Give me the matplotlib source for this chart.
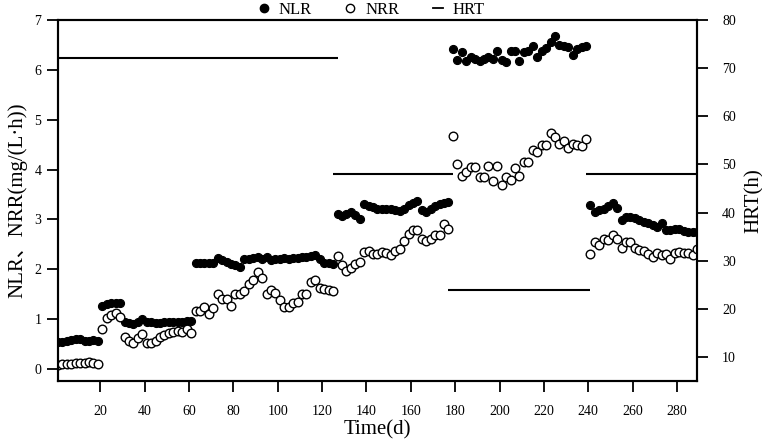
import matplotlib
matplotlib.use("Agg")
import matplotlib.pyplot as plt
from matplotlib.lines import Line2D

plt.rcParams["font.family"] = ["Liberation Serif", "Noto Sans CJK SC", "DejaVu Sans"]

# sampling days (every second day)
days = list(range(1, 290, 2))

nlr = [
    # days 1-19
    0.55, 0.55, 0.57, 0.58, 0.60, 0.60, 0.57, 0.57, 0.58, 0.57,
    # 21-29
    1.27, 1.30, 1.32, 1.32, 1.32,
    # 31-61
    0.95, 0.92, 0.90, 0.95, 1.00, 0.95, 0.95, 0.93, 0.93, 0.95,
    0.95, 0.95, 0.95, 0.95, 0.97, 0.97,
    # 63-125
    2.12, 2.12, 2.12, 2.12, 2.12, 2.22, 2.18, 2.15, 2.10, 2.08,
    2.05, 2.20, 2.20, 2.22, 2.25, 2.20, 2.25, 2.18, 2.20, 2.20,
    2.22, 2.20, 2.22, 2.23, 2.24, 2.25, 2.27, 2.28, 2.20, 2.13,
    2.13, 2.10,
    # 127-177
    3.11, 3.06, 3.10, 3.15, 3.08, 3.01, 3.30, 3.26, 3.24, 3.21,
    3.21, 3.20, 3.20, 3.19, 3.17, 3.20, 3.28, 3.33, 3.37, 3.19,
    3.15, 3.20, 3.26, 3.31, 3.33, 3.35,
    # 179-239
    6.41, 6.19, 6.35, 6.18, 6.26, 6.21, 6.17, 6.22, 6.26, 6.22,
    6.37, 6.20, 6.15, 6.37, 6.37, 6.18, 6.35, 6.37, 6.48, 6.25,
    6.37, 6.43, 6.55, 6.68, 6.50, 6.48, 6.45, 6.30, 6.41, 6.46,
    6.48,
    # 241-289
    3.28, 3.15, 3.18, 3.21, 3.26, 3.33, 3.23, 2.99, 3.05, 3.05,
    3.02, 2.98, 2.95, 2.93, 2.88, 2.85, 2.92, 2.78, 2.78, 2.81,
    2.80, 2.77, 2.75, 2.75, 2.75,
]

nrr = [
    # days 1-19
    0.08, 0.10, 0.10, 0.11, 0.12, 0.12, 0.13, 0.15, 0.12, 0.11,
    # 21-29
    0.80, 1.03, 1.08, 1.12, 1.05,
    # 31-61
    0.64, 0.56, 0.52, 0.62, 0.70, 0.53, 0.53, 0.56, 0.64, 0.69,
    0.72, 0.74, 0.77, 0.74, 0.80, 0.72,
    # 63-125
    1.17, 1.17, 1.25, 1.10, 1.22, 1.51, 1.40, 1.40, 1.27, 1.51,
    1.51, 1.57, 1.70, 1.78, 1.95, 1.83, 1.50, 1.58, 1.53, 1.38,
    1.24, 1.24, 1.32, 1.35, 1.51, 1.51, 1.75, 1.78, 1.62, 1.60,
    1.58, 1.57,
    # 127-177
    2.26, 2.08, 1.97, 2.03, 2.11, 2.15, 2.35, 2.37, 2.31, 2.30,
    2.35, 2.33, 2.28, 2.37, 2.40, 2.57, 2.71, 2.79, 2.79, 2.61,
    2.57, 2.60, 2.68, 2.68, 2.90, 2.81,
    # 179-239
    4.68, 4.11, 3.88, 3.95, 4.05, 4.05, 3.85, 3.85, 4.08, 3.78,
    4.08, 3.70, 3.85, 3.79, 4.03, 3.88, 4.15, 4.15, 4.39, 4.35,
    4.50, 4.50, 4.73, 4.66, 4.51, 4.58, 4.43, 4.51, 4.49, 4.48,
    4.61,
    # 241-289
    2.31, 2.55, 2.48, 2.60, 2.59, 2.68, 2.60, 2.43, 2.55, 2.54,
    2.43, 2.38, 2.36, 2.30, 2.25, 2.33, 2.29, 2.31, 2.21, 2.33,
    2.35, 2.33, 2.33, 2.29, 2.41,
]

# HRT stages: (start day, end day, hours)
hrt_start = [1, 125, 177, 239]
hrt_end = [127, 179, 241, 289]
hrt_hours = [72, 48, 24, 48]

fig = plt.figure(figsize=(7.62, 4.47), dpi=100)
ax = fig.add_axes([0.0761, 0.1477, 0.8386, 0.8076])
ax2 = ax.twinx()

ax.plot(days, nlr, "o", color="black", ms=5.8, mew=0.8, zorder=3)
ax.plot(days, nrr, "o", mfc="white", mec="black", ms=6.2, mew=1.0, zorder=3)
ax2.hlines(hrt_hours, hrt_start, hrt_end, color="black", lw=1.5)

ax.set_xlim(1, 289)
ax.set_ylim(-0.24, 7)
ax2.set_ylim(5, 80)
ax.set_xticks(range(20, 281, 20))
ax.set_yticks(range(0, 8))
ax2.set_yticks(range(10, 81, 10))

for a in (ax, ax2):
    for s in a.spines.values():
        s.set_linewidth(1.5)
    a.tick_params(direction="out", length=8, width=1.3, labelsize=10)
ax.tick_params(axis="x", pad=9)
ax.tick_params(axis="y", pad=4)
ax2.tick_params(axis="y", pad=10)

ax.set_xlabel("Time(d)", fontsize=15, labelpad=2)
ax.set_ylabel("NLR、NRR(mg/(L·h))", fontsize=15, labelpad=5)
ax2.set_ylabel("HRT(h)", fontsize=15, labelpad=6)

handles = [
    Line2D([], [], ls="none", marker="o", color="black", ms=6),
    Line2D([], [], ls="none", marker="o", mfc="white", mec="black", ms=6),
    Line2D([], [], color="black", lw=1.3),
]
fig.legend(handles, ["NLR", "NRR", "HRT"], loc="center", ncol=3,
           bbox_to_anchor=(0.488, 0.978), frameon=False, fontsize=12,
           handlelength=0.6, handletextpad=0.6, columnspacing=2.0,
           borderpad=0)

fig.savefig("out.png", dpi=100)
